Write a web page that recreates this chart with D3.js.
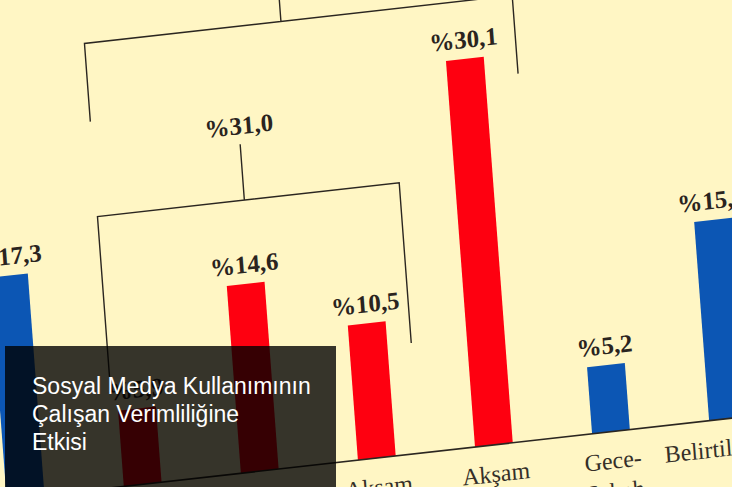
<!DOCTYPE html>
<html lang="tr">
<head>
<meta charset="UTF-8">
<title>Sosyal Medya Kullanımının Çalışan Verimliliğine Etkisi</title>
<script src="https://d3js.org/d3.v7.min.js"></script>
<style>
  body { margin: 0; background: #fff6c4; overflow: hidden; }
  svg { display: block; background: #fff6c4; }
  .val { font-family: "Liberation Serif", "Times New Roman", serif; font-weight: bold; font-size: 25px; fill: #2a241e; }
  .cat { font-family: "Liberation Serif", "Times New Roman", serif; font-size: 24px; fill: #352f28; }
  .title { font-family: "Liberation Sans", Arial, sans-serif; font-size: 23px; fill: #ffffff; }
</style>
</head>
<body>
<svg width="732" height="487"></svg>
<script>
// veriler
const categories = ["Sabah", "Öğle", "Öğleden Sonra", "Akşam Üstü", "Akşam", "Gece-Sabah", "Belirtilmemiş"];
const catLines = [["Sabah"], ["Öğle"], ["Öğleden", "Sonra"], ["Akşam", "Üstü"], ["Akşam"], ["Gece-", "Sabah"], ["Belirtilmemiş"]];
const values = [17.3, 5.9, 14.6, 10.5, 30.1, 5.2, 15.5];
const groups = ["mavi", "kırmızı", "kırmızı", "kırmızı", "kırmızı", "mavi", "mavi"];
const bracketFrom = ["Öğle", "Öğle"];
const bracketTo = ["Akşam Üstü", "Akşam"];
const bracketValues = [31.0, 61.1];
const titleLines = ["Sosyal Medya Kullanımının", "Çalışan Verimliliğine", "Etkisi"];

const colors = { "mavi": "#0c56b4", "kırmızı": "#fe0010" };
const tr = d3.formatLocale({ decimal: ",", thousands: ".", grouping: [3], currency: ["", " ₺"] });
const fmt = v => "%" + tr.format(".1f")(v);

const svg = d3.select("svg");
const step = 117.8, bw = 38, pxPerUnit = 12.86;
const L = -4 * step - (step - bw) / 2;

const x = d3.scaleBand()
    .domain(categories)
    .range([L, L + categories.length * step])
    .paddingInner(1 - bw / step)
    .paddingOuter((1 - bw / step) / 2);
const y = d3.scaleLinear().domain([0, 40]).range([0, -40 * pxPerUnit]);

// fotoğraf gibi hafif eğik duruyor
const g = svg.append("g")
    .attr("transform", "matrix(0.9938,-0.1115,0.075,0.997,475,447)");

g.selectAll("rect.bar")
    .data(values)
    .join("rect")
    .attr("class", "bar")
    .attr("x", (d, i) => x(categories[i]))
    .attr("y", d => y(d))
    .attr("width", x.bandwidth())
    .attr("height", d => y(0) - y(d))
    .attr("fill", (d, i) => colors[groups[i]]);

g.selectAll("text.val")
    .data(values)
    .join("text")
    .attr("class", "val")
    .attr("x", (d, i) => x(categories[i]) + x.bandwidth() / 2)
    .attr("y", d => y(d) - 11)
    .attr("text-anchor", "middle")
    .text(fmt);

// taban çizgisi
g.append("line")
    .attr("x1", x.range()[0] - 40)
    .attr("x2", x.range()[1] + 120)
    .attr("y1", y(0)).attr("y2", y(0))
    .attr("stroke", "#2b2620")
    .attr("stroke-width", 1.6);

g.selectAll("text.cat")
    .data(catLines)
    .join("text")
    .attr("class", "cat")
    .attr("text-anchor", "middle")
    .attr("transform", (d, i) => `translate(${x(categories[i]) + x.bandwidth() / 2},${y(0) + 37})`)
    .selectAll("tspan")
    .data(d => d)
    .join("tspan")
    .attr("x", 0)
    .attr("dy", (d, j) => j === 0 ? 0 : 31)
    .text(d => d);

// gruplama parantezleri
const bracketTop = [21.1, 34.6], bracketLeg = [8.6, 28.5], bracketPad = [24, 33];
bracketValues.forEach((v, k) => {
    const x1 = x(bracketFrom[k]) - 6;
    const x2 = x(bracketTo[k]) + x.bandwidth() + bracketPad[k];
    const xm = (x(bracketFrom[k]) + x(bracketTo[k]) + x.bandwidth()) / 2 + (k === 0 ? 5 : -4);
    const top = y(bracketTop[k]), leg = y(bracketLeg[k]);
    g.append("path")
        .attr("d", `M${x1},${leg}V${top}H${x2}V${leg}M${xm},${top}V${top - 56}`)
        .attr("fill", "none")
        .attr("stroke", "#2b2620")
        .attr("stroke-width", 1.4);
    g.append("text")
        .attr("class", "val")
        .attr("x", xm)
        .attr("y", top - 66)
        .attr("text-anchor", "middle")
        .text(fmt(v));
});

// başlık kutusu
svg.append("rect")
    .attr("x", 5).attr("y", 346)
    .attr("width", 331).attr("height", 150)
    .attr("fill", "rgba(0,0,0,0.79)");

svg.append("text")
    .attr("class", "title")
    .selectAll("tspan")
    .data(titleLines)
    .join("tspan")
    .attr("x", 32)
    .attr("y", (d, i) => 394 + i * 28)
    .text(d => d);
</script>
</body>
</html>
